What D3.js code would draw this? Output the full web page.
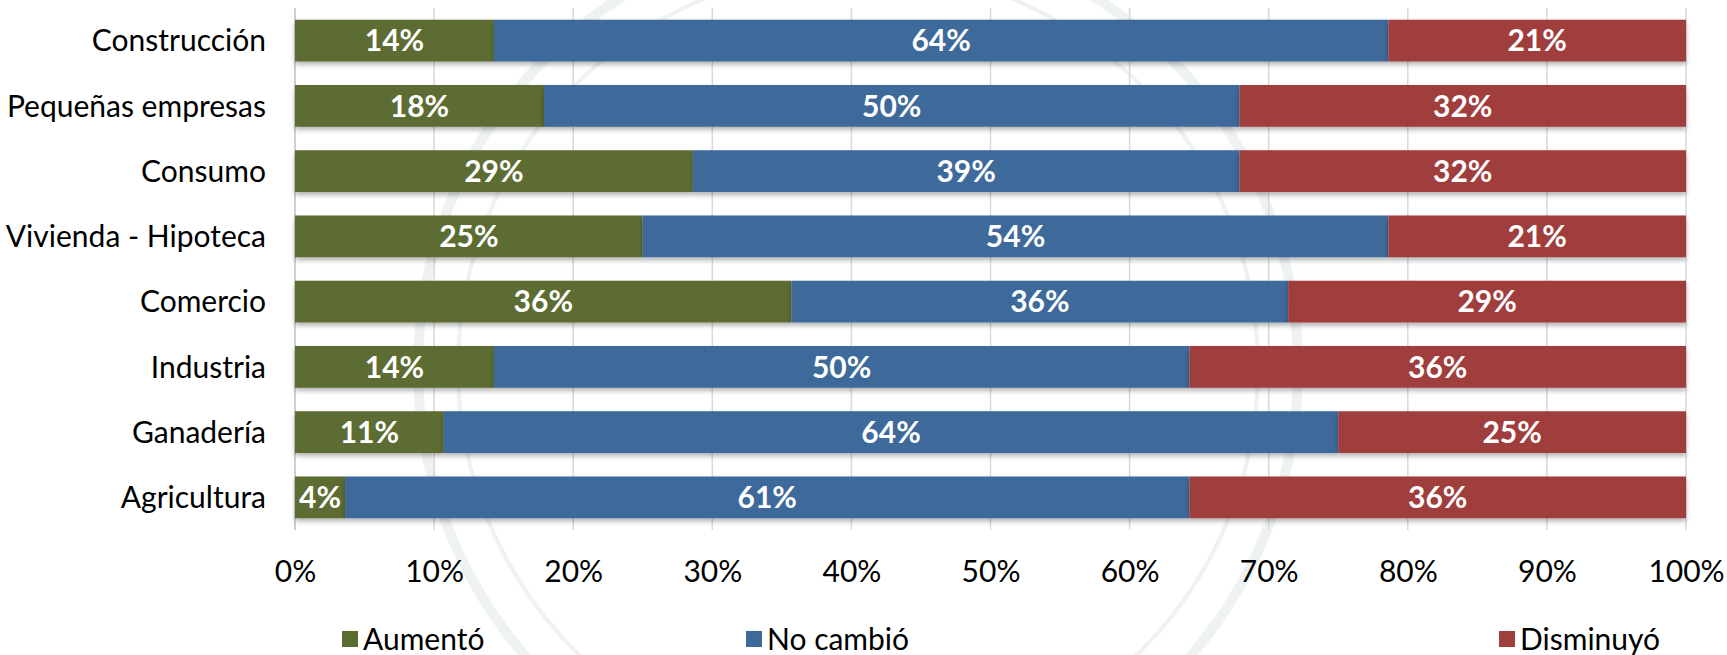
<!DOCTYPE html>
<html>
<head>
<meta charset="utf-8">
<script src="https://cdn.jsdelivr.net/npm/d3@7"></script>
<style>
  body { margin: 0; background: #fff; }
  text { font-family: Lato, "Open Sans", sans-serif; }
</style>
</head>
<body>
<div id="chart"></div>
<script>
var svgWidth = 1727;
var svgHeight = 655;

// categories, top to bottom
var categories = ["Construcción", "Pequeñas empresas", "Consumo", "Vivienda - Hipoteca",
  "Comercio", "Industria", "Ganadería", "Agricultura"];

// shares in %
var aumento   = [14.3, 17.9, 28.6, 25.0, 35.7, 14.3, 10.7, 3.6];
var noCambio  = [64.3, 50.0, 39.3, 53.6, 35.7, 50.0, 64.3, 60.7];
var disminuyo = [21.4, 32.1, 32.1, 21.4, 28.6, 35.7, 25.0, 35.7];

var seriesNames = ["Aumentó", "No cambió", "Disminuyó"];
var seriesColors = ["#5b6c30", "#3e699b", "#a03e3c"];
var xTicks = [0, 10, 20, 30, 40, 50, 60, 70, 80, 90, 100];

var margin = { top: 8, right: 41, bottom: 125, left: 295 };
var width = svgWidth - margin.left - margin.right;
var height = svgHeight - margin.top - margin.bottom;
var fontSize = 30;

var svg = d3.select("#chart")
  .append("svg")
  .attr("width", svgWidth)
  .attr("height", svgHeight);

// drop shadow for the bars
var defs = svg.append("defs");
var filter = defs.append("filter")
  .attr("id", "shadow")
  .attr("x", "-5%").attr("y", "-20%")
  .attr("width", "110%").attr("height", "160%");
filter.append("feDropShadow")
  .attr("dx", 0).attr("dy", 3)
  .attr("stdDeviation", 2.5)
  .attr("flood-color", "#000")
  .attr("flood-opacity", 0.3);

// faint watermark rings
var mark = svg.append("g").attr("fill", "none").attr("stroke", "#eef2f2");
mark.append("circle").attr("cx", 858).attr("cy", 368).attr("r", 440).attr("stroke-width", 10);
mark.append("circle").attr("cx", 858).attr("cy", 368).attr("r", 400).attr("stroke-width", 4);

var chartGroup = svg.append("g")
  .attr("transform", `translate(${margin.left}, ${margin.top})`);

var xScale = d3.scaleLinear()
  .domain([0, 100])
  .range([0, width]);

var yScale = d3.scaleBand()
  .domain(categories)
  .range([0, height])
  .paddingInner(0.36)
  .paddingOuter(0.18);

// gridlines
chartGroup.append("g")
  .selectAll("line")
  .data(xTicks)
  .enter()
  .append("line")
  .attr("x1", d => xScale(d))
  .attr("x2", d => xScale(d))
  .attr("y1", 0)
  .attr("y2", height)
  .attr("stroke", d => d === 0 ? "#bfbfbf" : "#d9d9d9")
  .attr("stroke-width", 1.5);

// stack data
var table = categories.map((c, i) => ({
  cat: c,
  "Aumentó": aumento[i],
  "No cambió": noCambio[i],
  "Disminuyó": disminuyo[i]
}));
var stacked = d3.stack().keys(seriesNames)(table);

var layers = chartGroup.selectAll(".layer")
  .data(stacked)
  .enter()
  .append("g")
  .attr("class", "layer")
  .attr("fill", (d, i) => seriesColors[i]);

layers.selectAll("rect")
  .data(d => d)
  .enter()
  .append("rect")
  .attr("x", d => xScale(d[0]))
  .attr("y", d => yScale(d.data.cat))
  .attr("width", d => xScale(d[1]) - xScale(d[0]))
  .attr("height", yScale.bandwidth())
  .attr("filter", "url(#shadow)");

// value labels
var fmt = v => Math.round(v) + "%";
layers.selectAll("text")
  .data(d => d)
  .enter()
  .append("text")
  .attr("x", d => {
    var mid = (xScale(d[0]) + xScale(d[1])) / 2;
    var w = xScale(d[1]) - xScale(d[0]);
    return w < 50 ? xScale(d[0]) + 23 : mid;
  })
  .attr("y", d => yScale(d.data.cat) + yScale.bandwidth() / 2)
  .attr("dy", "0.36em")
  .attr("text-anchor", "middle")
  .attr("fill", "#fff")
  .attr("font-weight", "bold")
  .attr("font-size", fontSize)
  .text(d => fmt(d[1] - d[0]));

// category axis
chartGroup.append("g")
  .selectAll("text")
  .data(categories)
  .enter()
  .append("text")
  .attr("x", -29)
  .attr("y", d => yScale(d) + yScale.bandwidth() / 2)
  .attr("dy", "0.36em")
  .attr("text-anchor", "end")
  .attr("font-size", fontSize)
  .attr("fill", "#000")
  .text(d => d);

// x axis
var bottomAxis = d3.axisBottom(xScale)
  .tickValues(xTicks)
  .tickSize(0)
  .tickPadding(31)
  .tickFormat(d => d + "%");

var xAxis = chartGroup.append("g")
  .attr("transform", `translate(0, ${height})`)
  .call(bottomAxis);
xAxis.select(".domain").remove();
xAxis.selectAll("text")
  .attr("font-family", "Lato, 'Open Sans', sans-serif")
  .attr("font-size", fontSize)
  .attr("fill", "#000");

// legend
var legendX = [342, 746, 1499];
var legend = svg.append("g")
  .selectAll("g")
  .data(seriesNames)
  .enter()
  .append("g")
  .attr("transform", (d, i) => `translate(${legendX[i]}, 639)`);

legend.append("rect")
  .attr("x", 0)
  .attr("y", -8)
  .attr("width", 16)
  .attr("height", 16)
  .attr("fill", (d, i) => seriesColors[i]);

legend.append("text")
  .attr("x", 21)
  .attr("y", 0)
  .attr("dy", "0.36em")
  .attr("font-size", fontSize)
  .attr("fill", "#000")
  .text(d => d);
</script>
</body>
</html>
